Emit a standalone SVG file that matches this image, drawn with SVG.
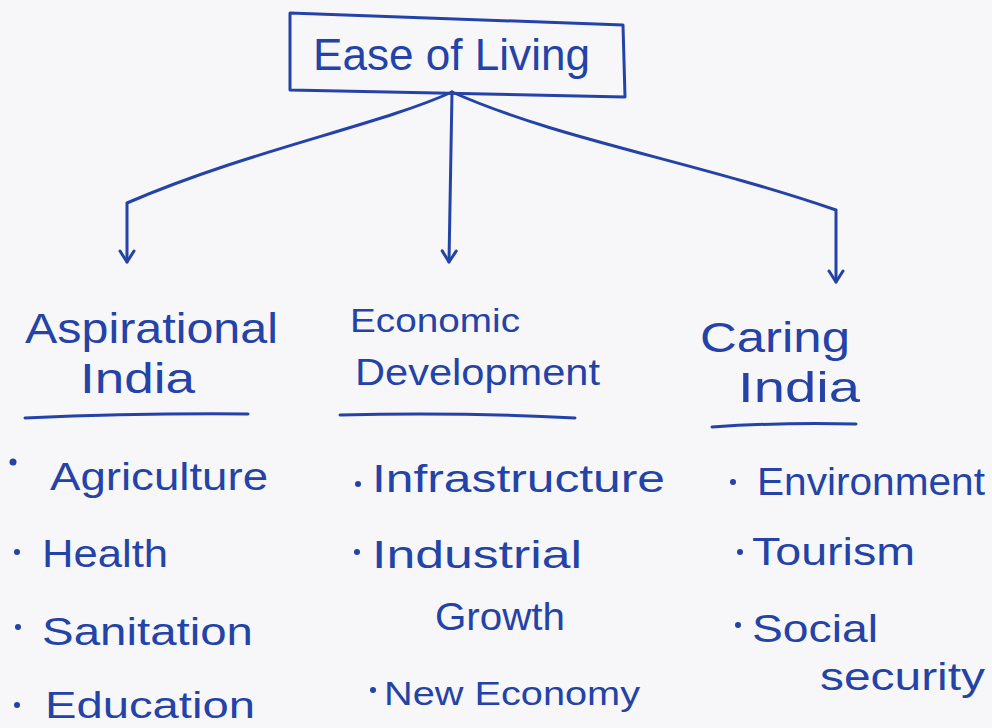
<svg xmlns="http://www.w3.org/2000/svg" width="992" height="728" viewBox="0 0 992 728">
  <defs>
    <style>
      .ink { fill: none; stroke: #2443a8; stroke-width: 3; stroke-linecap: round; stroke-linejoin: round; }
      .t { font-family: "Liberation Sans", "DejaVu Sans", sans-serif; fill: #2443a8; }
      .h { font-size: 42px; }
      .s { font-size: 38px; }
      .dot { fill: #2443a8; }
    </style>
    <marker id="arr" viewBox="-14 -9 16 18" markerWidth="16" markerHeight="18" refX="0" refY="0" orient="auto" markerUnits="userSpaceOnUse">
      <path d="M-11,-7 L0,0 L-11,7" fill="none" stroke="#2443a8" stroke-width="3" stroke-linecap="round" stroke-linejoin="round"/>
    </marker>
  </defs>
  <rect x="0" y="0" width="992" height="728" fill="#f7f7f9"/>

  <g id="connectors">
    <path class="ink" d="M452,92 C380,125 250,150 127,203 L127,262" marker-end="url(#arr)"/>
    <path class="ink" d="M452,92 L449,262" marker-end="url(#arr)"/>
    <path class="ink" d="M452,92 C560,140 690,160 836,210 L836,282" marker-end="url(#arr)"/>
  </g>

  <g id="ease-of-living">
    <path class="ink" d="M290,13 L623,25 L625,97 L290,90 Z"/>
    <text class="t" x="313" y="70" font-size="44" textLength="277" lengthAdjust="spacingAndGlyphs">Ease of Living</text>
  </g>

  <g id="aspirational-india">
    <text class="t h" x="25" y="343" textLength="253" lengthAdjust="spacingAndGlyphs">Aspirational</text>
    <text class="t h" x="80" y="393" textLength="115" lengthAdjust="spacingAndGlyphs">India</text>
    <path class="ink" d="M25,418 Q140,413 248,414"/>
    <circle class="dot" cx="13" cy="462" r="3.5"/>
    <text class="t s" x="50" y="490" textLength="218" lengthAdjust="spacingAndGlyphs">Agriculture</text>
    <circle class="dot" cx="17" cy="552" r="3"/>
    <text class="t s" x="42" y="567" textLength="126" lengthAdjust="spacingAndGlyphs">Health</text>
    <circle class="dot" cx="18" cy="627" r="3"/>
    <text class="t s" x="42" y="645" textLength="211" lengthAdjust="spacingAndGlyphs">Sanitation</text>
    <circle class="dot" cx="17" cy="705" r="3"/>
    <text class="t" x="45" y="718" font-size="36" textLength="210" lengthAdjust="spacingAndGlyphs">Education</text>
  </g>

  <g id="economic-development">
    <text class="t" x="350" y="332" font-size="34" textLength="170" lengthAdjust="spacingAndGlyphs">Economic</text>
    <text class="t" x="355" y="385" font-size="36" textLength="245" lengthAdjust="spacingAndGlyphs">Development</text>
    <path class="ink" d="M340,415 Q460,412 575,418"/>
    <circle class="dot" cx="358" cy="484" r="3"/>
    <text class="t s" x="372" y="492" textLength="293" lengthAdjust="spacingAndGlyphs">Infrastructure</text>
    <circle class="dot" cx="357" cy="552" r="3"/>
    <text class="t s" x="372" y="568" textLength="210" lengthAdjust="spacingAndGlyphs">Industrial</text>
    <text class="t s" x="435" y="630" textLength="130" lengthAdjust="spacingAndGlyphs">Growth</text>
    <circle class="dot" cx="373" cy="690" r="3"/>
    <text class="t" x="384" y="705" font-size="34" textLength="256" lengthAdjust="spacingAndGlyphs">New Economy</text>
  </g>

  <g id="caring-india">
    <text class="t h" x="700" y="352" textLength="150" lengthAdjust="spacingAndGlyphs">Caring</text>
    <text class="t h" x="738" y="402" textLength="122" lengthAdjust="spacingAndGlyphs">India</text>
    <path class="ink" d="M712,427 Q785,422 856,424"/>
    <circle class="dot" cx="733" cy="482" r="3"/>
    <text class="t s" x="757" y="495" textLength="228" lengthAdjust="spacingAndGlyphs">Environment</text>
    <circle class="dot" cx="740" cy="552" r="3"/>
    <text class="t s" x="752" y="565" textLength="163" lengthAdjust="spacingAndGlyphs">Tourism</text>
    <circle class="dot" cx="738" cy="625" r="3"/>
    <text class="t s" x="752" y="642" textLength="126" lengthAdjust="spacingAndGlyphs">Social</text>
    <text class="t s" x="820" y="690" textLength="165" lengthAdjust="spacingAndGlyphs">security</text>
  </g>
</svg>
